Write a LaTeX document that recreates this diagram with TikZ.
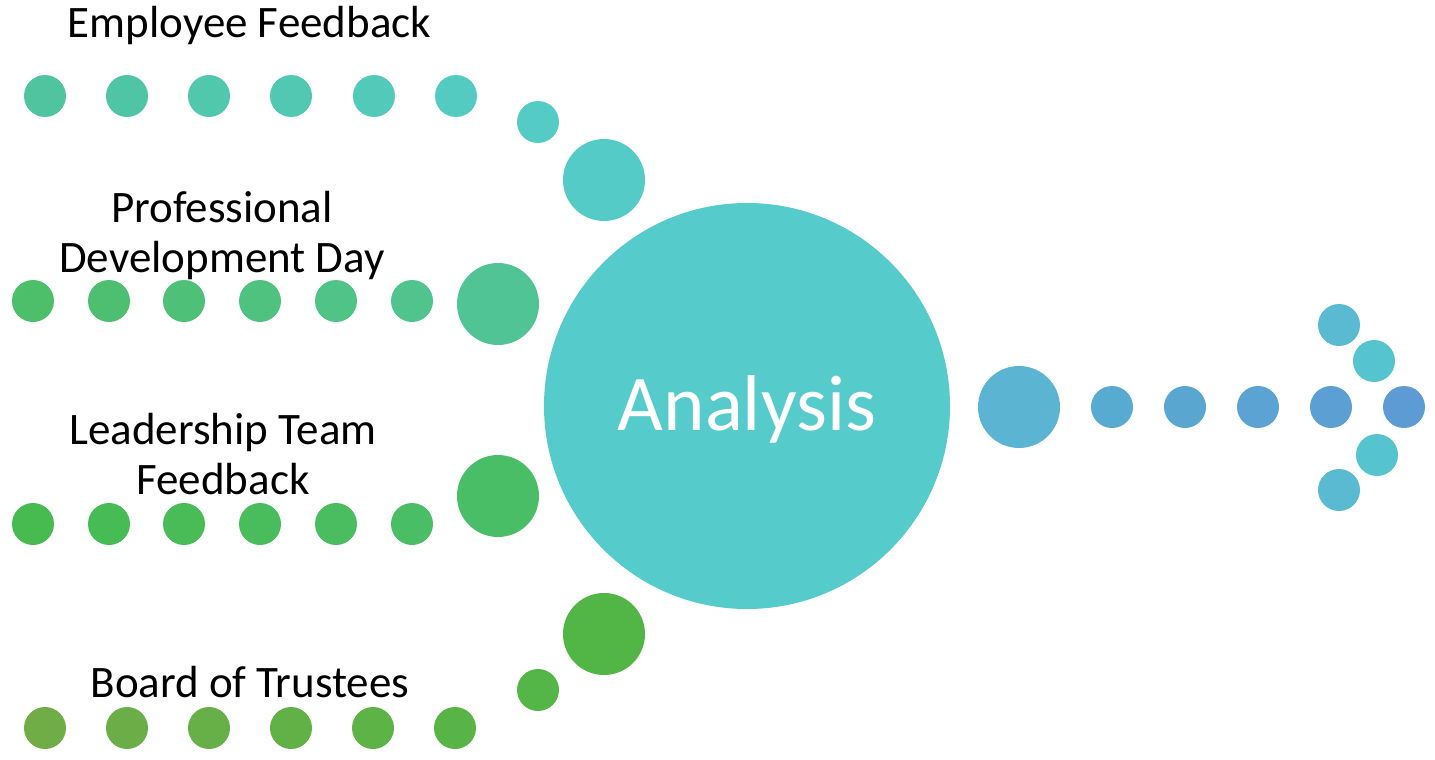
\documentclass[tikz,border=0pt]{standalone}
\usepackage{fontspec}
\setmainfont{Carlito}
\definecolor{eA}{RGB}{79,196,158}
\definecolor{eB}{RGB}{84,203,192}
\definecolor{pA}{RGB}{77,190,106}
\definecolor{pB}{RGB}{81,196,142}
\definecolor{lA}{RGB}{72,187,80}
\definecolor{lB}{RGB}{74,190,100}
\definecolor{bA}{RGB}{112,173,71}
\definecolor{bB}{RGB}{88,180,70}
\definecolor{mainC}{RGB}{86,203,204}
\definecolor{rBig}{RGB}{90,180,210}
\definecolor{rA}{RGB}{88,171,208}
\definecolor{rB}{RGB}{93,155,212}
\definecolor{tealA}{RGB}{86,196,206}
\definecolor{tealB}{RGB}{90,186,210}
\tikzset{
  dot/.style={circle,inner sep=0pt,minimum size=42pt,draw=none},
  bigdot/.style={circle,inner sep=0pt,minimum size=82pt,draw=none},
  lbl/.style={anchor=base,inner sep=0pt,font=\fontsize{45}{52}\selectfont,text=black},
}
\begin{document}
\begin{tikzpicture}[x=1pt,y=-1pt]
\useasboundingbox (0,0) rectangle (1435,760);
% Employee Feedback row
\foreach \i/\x in {0/45,1/127,2/209,3/291,4/374,5/456}{
  \pgfmathtruncatemacro{\p}{\i*20}
  \colorlet{cur}{eB!\p!eA}
  \node[dot,fill=cur] (e\i) at (\x,96) {};
}
\node[dot,fill={rgb,255:red,84;green,204;blue,197}] (es) at (538,122) {};
\node[bigdot,fill={rgb,255:red,85;green,203;blue,200}] (eb) at (604,180) {};
\node[lbl] (tE) at (249.5,38) {Employee Feedback};
% Professional Development Day row
\foreach \i/\x in {0/33,1/109,2/184,3/260,4/336,5/412}{
  \pgfmathtruncatemacro{\p}{\i*20}
  \colorlet{cur}{pB!\p!pA}
  \node[dot,fill=cur] (p\i) at (\x,301) {};
}
\node[bigdot,fill={rgb,255:red,80;green,196;blue,148}] (pb) at (498,304) {};
\node[lbl] (tP1) at (222,222) {Professional};
\node[lbl] (tP2) at (222,272) {Development Day};
% Leadership Team Feedback row
\foreach \i/\x in {0/33,1/109,2/184,3/260,4/336,5/412}{
  \pgfmathtruncatemacro{\p}{\i*20}
  \colorlet{cur}{lB!\p!lA}
  \node[dot,fill=cur] (l\i) at (\x,524) {};
}
\node[bigdot,fill={rgb,255:red,74;green,190;blue,103}] (lb) at (498,496) {};
\node[lbl] (tL1) at (223,444) {Leadership Team};
\node[lbl] (tL2) at (223,494) {Feedback};
% Board of Trustees row
\foreach \i/\x in {0/45,1/127,2/209,3/291,4/373,5/455}{
  \pgfmathtruncatemacro{\p}{\i*20}
  \colorlet{cur}{bB!\p!bA}
  \node[dot,fill=cur] (b\i) at (\x,728) {};
}
\node[dot,fill={rgb,255:red,84;green,182;blue,70}] (bs) at (538,690) {};
\node[bigdot,fill={rgb,255:red,82;green,182;blue,70}] (bb) at (604,634) {};
\node[lbl] (tB) at (250,697) {Board of Trustees};
% central circle
\node[circle,inner sep=0pt,minimum size=406pt,fill=mainC] (main) at (747,406) {};
\node[anchor=base,inner sep=0pt,font=\fontsize{79}{90}\selectfont,text=white] (tA) at (747,430) {Analysis};
% right arrow
\node[bigdot,fill=rBig] (rb) at (1019,407) {};
\foreach \i/\x in {0/1112,1/1185,2/1258,3/1331,4/1404}{
  \pgfmathtruncatemacro{\p}{\i*25}
  \colorlet{cur}{rB!\p!rA}
  \node[dot,fill=cur] (r\i) at (\x,407) {};
}
\node[dot,fill=tealB] (u1) at (1339,325) {};
\node[dot,fill=tealA] (u2) at (1374,361) {};
\node[dot,fill=tealA] (d2) at (1377,455) {};
\node[dot,fill=tealB] (d1) at (1339,490) {};
\end{tikzpicture}
\end{document}
